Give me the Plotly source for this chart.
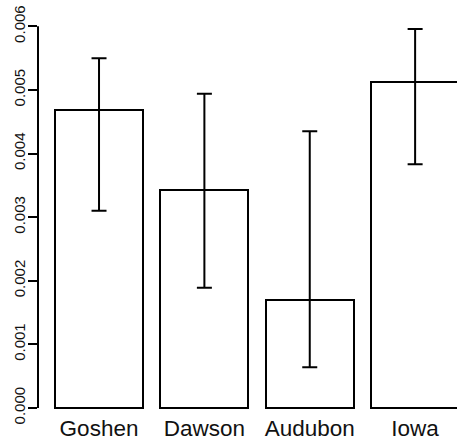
import plotly.graph_objects as go

categories = ["Goshen", "Dawson", "Audubon", "Iowa"]
means = [0.00468, 0.00342, 0.00170, 0.00512]
upper = [0.00550, 0.00494, 0.00435, 0.00596]
lower = [0.00310, 0.00189, 0.00064, 0.00383]
bar_pos = [0.7, 1.9, 3.1, 4.3]
y_ticks = [0.000, 0.001, 0.002, 0.003, 0.004, 0.005, 0.006]
y_ticktext = ["0.000", "0.001", "0.002", "0.003", "0.004", "0.005", "0.006"]

err_plus = [u - m for u, m in zip(upper, means)]
err_minus = [m - l for m, l in zip(means, lower)]

font_family = "Liberation Sans, Arial, Helvetica, sans-serif"

fig = go.Figure()
fig.add_trace(go.Bar(
    x=bar_pos,
    y=means,
    width=1.0,
    marker=dict(color="white", line=dict(color="black", width=2)),
    error_y=dict(type="data", symmetric=False, array=err_plus, arrayminus=err_minus,
                 color="black", thickness=2, width=7.5),
    showlegend=False,
    hoverinfo="skip",
))

# axis line spanning from first to last tick (R style)
fig.add_shape(type="line", xref="paper", yref="y", x0=0, x1=0,
              y0=y_ticks[0], y1=y_ticks[-1], line=dict(color="black", width=2))

fig.update_layout(
    width=457, height=442,
    margin=dict(l=38, r=0, t=19.63, b=28.91, pad=0),
    paper_bgcolor="white", plot_bgcolor="white",
    font=dict(family=font_family, color="black"),
    bargap=0,
    xaxis=dict(range=[0.005, 4.777], showgrid=False, zeroline=False, showline=False,
               tickmode="array", tickvals=bar_pos, ticktext=categories,
               ticks="", tickfont=dict(size=22.5, family=font_family, color="#111111"),
               ticklabelstandoff=-1,
               automargin=False, fixedrange=True),
    yaxis=dict(range=[-0.00008, 0.0061], showgrid=False, zeroline=False, showline=False,
               tickmode="array", tickvals=y_ticks, ticktext=y_ticktext,
               ticks="outside", ticklen=9, tickwidth=2, tickcolor="black",
               tickangle=-90, tickfont=dict(size=15, family=font_family, color="#111111"),
               ticklabelstandoff=-3,
               automargin=False, fixedrange=True),
)

fig.write_html("out.html", config={"displayModeBar": False})

# remove default page margins so the figure sits at the window's top-left corner
with open("out.html", "r", encoding="utf-8") as f:
    html = f.read()
html = html.replace("<head>", "<head><style>html,body{margin:0;padding:0;overflow:hidden;}</style>", 1)
with open("out.html", "w", encoding="utf-8") as f:
    f.write(html)
